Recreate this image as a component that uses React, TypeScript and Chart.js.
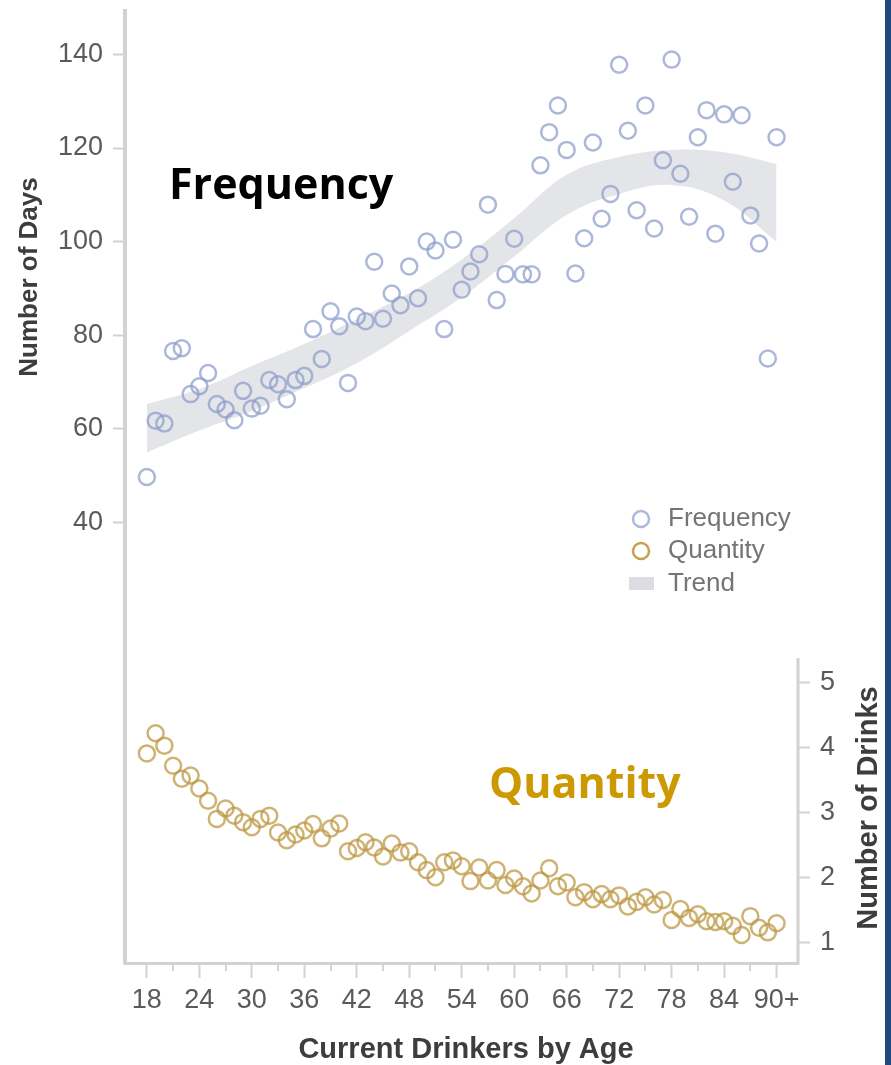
import React, { useEffect, useRef } from "react";
import { Chart, registerables } from "chart.js";

Chart.register(...registerables);

// ---------- data ----------
const ages = [
  18, 19, 20, 21, 22, 23, 24, 25, 26, 27, 28, 29, 30, 31, 32, 33, 34, 35, 36, 37,
  38, 39, 40, 41, 42, 43, 44, 45, 46, 47, 48, 49, 50, 51, 52, 53, 54, 55, 56, 57,
  58, 59, 60, 61, 62, 63, 64, 65, 66, 67, 68, 69, 70, 71, 72, 73, 74, 75, 76, 77,
  78, 79, 80, 81, 82, 83, 84, 85, 86, 87, 88, 89, 90,
];

const frequencyDays = [
  49.7, 61.7, 61.1, 76.6, 77.2, 67.4, 69.1, 71.9, 65.3, 64.1, 61.8, 68.1, 64.3, 64.9, 70.4, 69.5, 66.3, 70.4, 71.3, 81.3,
  74.9, 85.1, 81.9, 69.8, 84.0, 83.0, 95.7, 83.5, 88.9, 86.4, 94.7, 87.9, 100.0, 98.1, 81.3, 100.4, 89.7, 93.6, 97.3, 107.9,
  87.5, 93.1, 100.6, 93.0, 93.0, 116.3, 123.4, 129.1, 119.6, 93.2, 100.7, 121.2, 104.9, 110.2, 137.8, 123.7, 106.7, 129.1, 102.8, 117.4,
  138.9, 114.5, 105.3, 122.3, 128.1, 101.7, 127.2, 112.8, 127.0, 105.6, 99.6, 75.0, 122.3,
];

const quantityDrinks = [
  3.91, 4.22, 4.03, 3.72, 3.52, 3.57, 3.37, 3.18, 2.90, 3.06, 2.95, 2.85, 2.77, 2.90, 2.95, 2.69, 2.57, 2.66, 2.72, 2.82,
  2.60, 2.75, 2.83, 2.40, 2.45, 2.54, 2.46, 2.32, 2.52, 2.38, 2.40, 2.23, 2.11, 2.00, 2.23, 2.26, 2.17, 1.94, 2.15, 1.95,
  2.11, 1.88, 1.98, 1.86, 1.75, 1.95, 2.14, 1.86, 1.92, 1.69, 1.77, 1.66, 1.74, 1.66, 1.72, 1.55, 1.62, 1.69, 1.58, 1.65,
  1.34, 1.51, 1.37, 1.43, 1.32, 1.31, 1.32, 1.25, 1.11, 1.40, 1.22, 1.15, 1.29,
];

const trendAges = [18, 24, 30, 36, 42, 48, 54, 60, 66, 72, 78, 84, 90];
const trendUpper = [65.3, 68.5, 73.4, 78.1, 83.4, 89.0, 96.2, 105.0, 114.3, 118.1, 119.6, 119.1, 116.6];
const trendLower = [54.9, 59.6, 63.8, 68.7, 74.0, 80.9, 88.1, 96.8, 105.7, 110.2, 112.1, 108.8, 100.0];

const dayTicks = [40, 60, 80, 100, 120, 140];
const drinkTicks = [1, 2, 3, 4, 5];
const ageMajorTicks = [18, 24, 30, 36, 42, 48, 54, 60, 66, 72, 78, 84, 90];
const ageMinorTicks = [21, 27, 33, 39, 45, 51, 57, 63, 69, 75, 81, 87];
const ageTickLabels = ["18", "24", "30", "36", "42", "48", "54", "60", "66", "72", "78", "84", "90+"];

const legendLabels = ["Frequency", "Quantity", "Trend"];

// ---------- styles ----------
const SANS = "'Liberation Sans', Arial, Helvetica, sans-serif";
const AXIS_COLOR = "#d2d2d2";
const TICK_TEXT = "#5a5a5a";
const TITLE_TEXT = "#3d3d3d";
const FREQ_COLOR = "rgba(140,156,202,0.72)";
const QTY_COLOR = "rgba(187,150,62,0.72)";
const BAND_COLOR = "#e4e5e8";

const noPad = (s: any) => {
  s.paddingTop = 0;
  s.paddingBottom = 0;
  s.paddingLeft = 0;
  s.paddingRight = 0;
};

const overlayPlugin = {
  id: "overlay",
  afterDraw(chart: any) {
    const { ctx, chartArea, scales } = chart;
    const xs = scales.x;
    const y2 = scales.y2;
    ctx.save();

    // minor x ticks
    ctx.strokeStyle = AXIS_COLOR;
    ctx.lineWidth = 2;
    ageMinorTicks.forEach((a) => {
      const px = Math.round(xs.getPixelForValue(a));
      ctx.beginPath();
      ctx.moveTo(px, chartArea.bottom);
      ctx.lineTo(px, chartArea.bottom + 8);
      ctx.stroke();
    });

    // right axis line (only for the quantity panel)
    ctx.lineWidth = 3;
    ctx.beginPath();
    ctx.moveTo(chartArea.right, y2.getPixelForValue(5.38));
    ctx.lineTo(chartArea.right, chartArea.bottom + 1.5);
    ctx.stroke();

    // axis titles
    ctx.fillStyle = TITLE_TEXT;
    ctx.textAlign = "center";
    ctx.textBaseline = "middle";
    ctx.font = `bold 26px ${SANS}`;
    ctx.save();
    ctx.translate(30, 277);
    ctx.rotate(-Math.PI / 2);
    ctx.fillText("Number of Days", 0, 0);
    ctx.restore();

    ctx.font = `bold 29px ${SANS}`;
    ctx.save();
    ctx.translate(869, 808);
    ctx.rotate(-Math.PI / 2);
    ctx.fillText("Number of Drinks", 0, 0);
    ctx.restore();

    ctx.font = `bold 29px ${SANS}`;
    ctx.fillText("Current Drinkers by Age", 466, 1050);

    // big annotations
    ctx.textAlign = "left";
    ctx.textBaseline = "alphabetic";
    ctx.font = `bold 43px 'Open Sans', ${SANS}`;
    ctx.fillStyle = "#000000";
    ctx.fillText("Frequency", 169, 199);
    ctx.fillStyle = "#cc9900";
    ctx.fillText("Quantity", 489, 798);

    // legend
    const lx = 641;
    const ly = [519, 551, 584];
    ctx.lineWidth = 2.5;
    ctx.strokeStyle = "rgba(160,172,212,0.85)";
    ctx.beginPath();
    ctx.arc(lx, ly[0], 8, 0, Math.PI * 2);
    ctx.stroke();
    ctx.strokeStyle = "rgba(190,152,60,0.9)";
    ctx.beginPath();
    ctx.arc(lx, ly[1], 8, 0, Math.PI * 2);
    ctx.stroke();
    ctx.fillStyle = "#dcdde2";
    ctx.fillRect(629, ly[2] - 7, 25, 13);

    ctx.fillStyle = "#747474";
    ctx.font = `26px ${SANS}`;
    ctx.textBaseline = "middle";
    legendLabels.forEach((t, i) => ctx.fillText(t, 668, ly[i]));

    ctx.restore();
  },
};

export default function App() {
  const canvasRef = useRef<HTMLCanvasElement | null>(null);

  useEffect(() => {
    if (!canvasRef.current) return;
    const freqPoints = ages.map((a, i) => ({ x: a, y: frequencyDays[i] }));
    const qtyPoints = ages.map((a, i) => ({ x: a, y: quantityDrinks[i] }));
    const upper = trendAges.map((a, i) => ({ x: a, y: trendUpper[i] }));
    const lower = trendAges.map((a, i) => ({ x: a, y: trendLower[i] }));

    const chart = new Chart(canvasRef.current, {
      type: "scatter",
      data: {
        datasets: [
          {
            label: "Frequency",
            data: freqPoints,
            yAxisID: "y",
            pointRadius: 8,
            pointBorderWidth: 2.5,
            pointBorderColor: FREQ_COLOR,
            pointBackgroundColor: "rgba(0,0,0,0)",
            showLine: false,
          },
          {
            label: "Quantity",
            data: qtyPoints,
            yAxisID: "y2",
            pointRadius: 8,
            pointBorderWidth: 2.5,
            pointBorderColor: QTY_COLOR,
            pointBackgroundColor: "rgba(0,0,0,0)",
            showLine: false,
          },
          {
            type: "line",
            label: "TrendLower",
            data: lower,
            yAxisID: "y",
            showLine: true,
            borderWidth: 0,
            borderColor: "rgba(0,0,0,0)",
            pointRadius: 0,
            tension: 0.4,
            fill: false,
          },
          {
            type: "line",
            label: "Trend",
            data: upper,
            yAxisID: "y",
            showLine: true,
            borderWidth: 0,
            borderColor: "rgba(0,0,0,0)",
            backgroundColor: BAND_COLOR,
            pointRadius: 0,
            tension: 0.4,
            fill: "-1",
          },
        ] as any,
      },
      options: {
        responsive: false,
        animation: false,
        events: [],
        layout: { padding: { top: 8, left: 0, right: 0, bottom: 0 } },
        plugins: { legend: { display: false }, tooltip: { enabled: false } },
        scales: {
          x: {
            type: "linear",
            min: 15.5,
            max: 92.45,
            afterFit: (s: any) => {
              s.height = 102;
              noPad(s);
            },
            afterBuildTicks: (s: any) => {
              s.ticks = ageMajorTicks.map((v) => ({ value: v }));
            },
            ticks: {
              autoSkip: false,
              maxRotation: 0,
              padding: 6,
              color: TICK_TEXT,
              font: { size: 27, family: SANS },
              callback: (v: any) => {
                const i = ageMajorTicks.indexOf(Number(v));
                return i >= 0 ? ageTickLabels[i] : "";
              },
            },
            grid: {
              drawOnChartArea: false,
              tickLength: 15,
              tickColor: AXIS_COLOR,
              tickWidth: 2,
            },
            border: { display: true, color: AXIS_COLOR, width: 3 },
          },
          y: {
            type: "linear",
            position: "left",
            min: -54.2,
            max: 149.4,
            afterFit: (s: any) => {
              s.width = 125;
              noPad(s);
            },
            afterBuildTicks: (s: any) => {
              s.ticks = dayTicks.map((v) => ({ value: v }));
            },
            ticks: {
              padding: 10,
              color: TICK_TEXT,
              font: { size: 27, family: SANS },
            },
            grid: {
              drawOnChartArea: false,
              tickLength: 12,
              tickColor: AXIS_COLOR,
              tickWidth: 2,
            },
            border: { display: true, color: AXIS_COLOR, width: 4 },
          },
          y2: {
            type: "linear",
            position: "right",
            min: 0.677,
            max: 15.37,
            afterFit: (s: any) => {
              s.width = 93;
              noPad(s);
            },
            afterBuildTicks: (s: any) => {
              s.ticks = drinkTicks.map((v) => ({ value: v }));
            },
            ticks: {
              padding: 10,
              color: TICK_TEXT,
              font: { size: 27, family: SANS },
            },
            grid: {
              drawOnChartArea: false,
              tickLength: 12,
              tickColor: AXIS_COLOR,
              tickWidth: 2,
            },
            border: { display: false },
          },
        },
      } as any,
      plugins: [overlayPlugin],
    });

    return () => chart.destroy();
  }, []);

  return (
    <div
      style={{
        position: "fixed",
        left: 0,
        top: 0,
        width: 891,
        height: 1065,
        background: "#ffffff",
        overflow: "hidden",
      }}
    >
      <canvas ref={canvasRef} width={891} height={1065} style={{ display: "block" }} />
      <div
        style={{
          position: "absolute",
          left: 885,
          top: 0,
          width: 6,
          height: 1065,
          background: "#1f4a7d",
        }}
      />
    </div>
  );
}
